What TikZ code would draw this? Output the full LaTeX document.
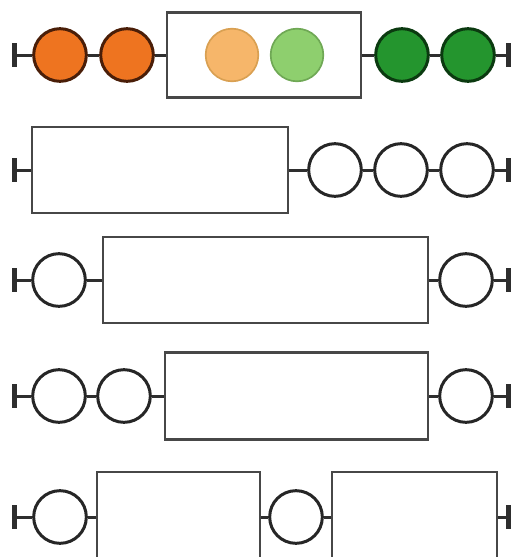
\documentclass[tikz,border=0pt]{standalone}
\usepackage{xcolor}
\usepackage{tikz}
\definecolor{deeporange}{HTML}{EE7420}
\definecolor{orangerim}{HTML}{4A1E08}
\definecolor{paleorange}{HTML}{F6B66A}
\definecolor{paleorangerim}{HTML}{D9A052}
\definecolor{palegreen}{HTML}{8ECF6E}
\definecolor{palegreenrim}{HTML}{6FA855}
\definecolor{deepgreen}{HTML}{24952E}
\definecolor{deepgreenrim}{HTML}{0B3A10}
\tikzset{
  ball/.style={circle, draw=black!85, line width=0.9mm, fill=white,
               minimum size=15.8mm, inner sep=0pt},
  softball/.style={ball, line width=0.5mm},
  box/.style={draw=black!72, line width=0.75mm, inner sep=0pt,
              minimum height=25.8mm},
  wire/.style={draw=black!82, line width=0.9mm}
}
\usetikzlibrary{positioning, arrows.meta}

\begin{document}
\begin{tikzpicture}[
    x=0.3mm, y=-0.3mm,
    fromstop/.style={wire, {Bar[width=7mm, line width=1.4mm]}-},
    tostop/.style={wire, -{Bar[width=7mm, line width=1.4mm]}}
]
\clip (0,0) rectangle (515,557);
% row 1: coloured balls
\coordinate (a0) at (12,55);
\node[ball, fill=deeporange, draw=orangerim] (a1) at (60,55) {};
\node[ball, fill=deeporange, draw=orangerim] (a2) at (127,55) {};
\node[box, minimum width=58.2mm, minimum height=25.5mm] (a3) at (264,55) {};
\node[softball, fill=paleorange, draw=paleorangerim] (a4) at (232,55) {};
\node[softball, fill=palegreen, draw=palegreenrim] (a5) at (297,55) {};
\node[ball, fill=deepgreen, draw=deepgreenrim] (a6) at (402,55) {};
\node[ball, fill=deepgreen, draw=deepgreenrim] (a7) at (468,55) {};
\coordinate (a8) at (511,55);
\draw[fromstop] (a0) -- (a1);
\foreach \u/\v in {a1/a2, a2/a3, a3/a6, a6/a7}
    \draw[wire] (\u) -- (\v);
\draw[tostop] (a7) -- (a8);
% row 2
\coordinate (b0) at (12,170);
\node[box, minimum width=76.8mm] (b1) at (160,170) {};
\foreach \n/\x in {b2/335, b3/401, b4/467}
    \node[ball] (\n) at (\x,170) {};
\coordinate (b5) at (511,170);
\draw[fromstop] (b0) -- (b1);
\foreach \u/\v in {b1/b2, b2/b3, b3/b4}
    \draw[wire] (\u) -- (\v);
\draw[tostop] (b4) -- (b5);
% row 3
\coordinate (c0) at (12,280);
\node[ball] (c1) at (59,280) {};
\node[box, minimum width=97.5mm] (c2) at (265.5,280) {};
\node[ball] (c3) at (466,280) {};
\coordinate (c4) at (511,280);
\draw[fromstop] (c0) -- (c1);
\foreach \u/\v in {c1/c2, c2/c3}
    \draw[wire] (\u) -- (\v);
\draw[tostop] (c3) -- (c4);
% row 4
\coordinate (d0) at (12,396);
\node[ball] (d1) at (59,396) {};
\node[ball] (d2) at (124,396) {};
\node[box, minimum width=78.9mm, minimum height=26.1mm] (d3) at (296.5,396) {};
\node[ball] (d4) at (466,396) {};
\coordinate (d5) at (511,396);
\draw[fromstop] (d0) -- (d1);
\foreach \u/\v in {d1/d2, d2/d3, d3/d4}
    \draw[wire] (\u) -- (\v);
\draw[tostop] (d4) -- (d5);
% row 5
\coordinate (e0) at (12,517);
\node[ball] (e1) at (60,517) {};
\node[box, minimum width=48.9mm, minimum height=27mm] (e2) at (178.5,517) {};
\node[ball] (e3) at (296,517) {};
\node[box, minimum width=49.5mm, minimum height=27mm] (e4) at (414.5,517) {};
\coordinate (e5) at (511,517);
\draw[fromstop] (e0) -- (e1);
\foreach \u/\v in {e1/e2, e2/e3, e3/e4}
    \draw[wire] (\u) -- (\v);
\draw[tostop] (e4) -- (e5);
\end{tikzpicture}
\end{document}
